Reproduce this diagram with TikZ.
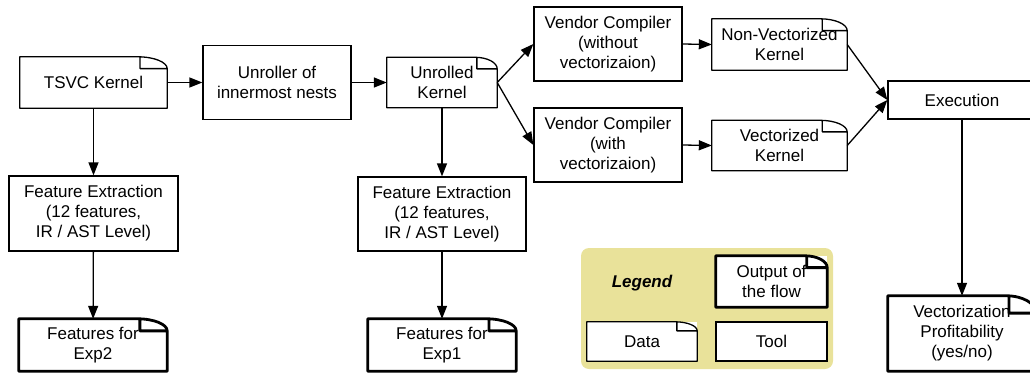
\documentclass[tikz,border=0pt]{standalone}
\usepackage{fontspec}
\setmainfont{Liberation Sans}
\usetikzlibrary{arrows.meta,calc}
\definecolor{legendbg}{RGB}{233,226,154}

\tikzset{
  every node/.style={font=\fontsize{17}{20}\selectfont},
  box/.style={draw, line width=1.3pt, inner sep=0pt, align=center},
  docbox/.style={inner sep=0pt, align=center},
  thinline/.style={line width=1.3pt},
  thickline/.style={line width=2.8pt},
  flow/.style={line width=1.3pt, -{Triangle[length=13pt,width=10pt]}},
}

% Document outline with a folded top-right corner, drawn around a node
\newcommand\docframe[2]{%
  \fill[white] let \p1=(#2.north west), \p2=(#2.south east),
      \n1={0.2*(\x2-\x1)}, \n2={0.23*(\y1-\y2)} in
    ({\x2-\n1},\y1) .. controls ({\x2-0.45*\n1},\y1) and (\x2,{\y1-0.45*\n2}) .. (\x2,{\y1-\n2})
    -- ({\x2-0.92*\n1},{\y1-\n2}) -- ({\x2-0.92*\n1},\y1) -- cycle;
  \draw[#1, line join=round] let \p1=(#2.north west), \p2=(#2.south east),
      \n1={0.2*(\x2-\x1)}, \n2={0.23*(\y1-\y2)} in
    (\p1) -- ({\x2-\n1},\y1)
    .. controls ({\x2-0.45*\n1},\y1) and (\x2,{\y1-0.45*\n2}) .. (\x2,{\y1-\n2})
    -- (\x2,\y2) -- (\x1,\y2) -- cycle
    ({\x2-0.92*\n1},\y1) -- ({\x2-0.92*\n1},{\y1-\n2}) -- (\x2,{\y1-\n2});
}

\begin{document}
\begin{tikzpicture}[x=1pt, y=-1pt]
  \path[use as bounding box, clip] (0,0) rectangle (1030,372);

  % main flow
  \node[docbox, minimum width=147pt, minimum height=51pt] (tsvc) at (93.5,82.5) {TSVC Kernel};
  \node[box, minimum width=148pt, minimum height=74pt] (unroller) at (277,82.5) {Unroller of\\innermost nests};
  \node[docbox, minimum width=110pt, minimum height=50pt] (unrolled) at (442,82.5) {Unrolled\\Kernel};
  \node[box, minimum width=148pt, minimum height=74pt] (vcnovec) at (608,44) {Vendor Compiler\\(without\\vectorizaion)};
  \node[box, minimum width=148pt, minimum height=74pt] (vcvec) at (608,145) {Vendor Compiler\\(with\\vectorizaion)};
  \node[docbox, minimum width=135pt, minimum height=51pt] (nonvec) at (779.5,44.5) {Non-Vectorized\\Kernel};
  \node[docbox, minimum width=135pt, minimum height=50pt] (vec) at (779.5,145.5) {Vectorized\\Kernel};
  \node[box, minimum width=148pt, minimum height=38pt] (exec) at (962,100) {Execution};
  \node[docbox, minimum width=148pt, minimum height=75pt] (vprof) at (962,333.5) {Vectorization\\Profitability\\(yes/no)};

  % feature extraction branches
  \node[box, minimum width=169pt, minimum height=75pt] (fexa) at (93.5,213.5) {Feature Extraction\\(12 features,\\IR / AST Level)};
  \node[docbox, minimum width=148pt, minimum height=52pt] (featb) at (93,345) {Features for\\Exp2};
  \node[box, minimum width=168pt, minimum height=74pt] (fexb) at (442,214) {Feature Extraction\\(12 features,\\IR / AST Level)};
  \node[docbox, minimum width=148pt, minimum height=52pt] (feata) at (442,345) {Features for\\Exp1};

  % legend
  \node[fill=legendbg, rounded corners=8pt, minimum width=252pt, minimum height=121pt, inner sep=0pt] (legend) at (707,308.5) {};
  \node[font=\fontsize{17}{20}\selectfont\bfseries\itshape] (legendtitle) at (642,283) {Legend};
  \node[docbox, fill=white, minimum width=111pt, minimum height=51pt] (lgout) at (771.5,281.5) {Output of\\the flow};
  \node[docbox, fill=white, minimum width=110pt, minimum height=39pt] (lgdata) at (642,341.5) {Data};
  \node[box, fill=white, minimum width=111pt, minimum height=39pt] (lgtool) at (771.5,341.5) {Tool};

  % document outlines
  \docframe{thinline}{tsvc}
  \docframe{thinline}{unrolled}
  \docframe{thinline}{nonvec}
  \docframe{thinline}{vec}
  \docframe{thinline}{lgdata}
  \docframe{thickline}{featb}
  \docframe{thickline}{feata}
  \docframe{thickline}{vprof}
  \docframe{thickline}{lgout}

  % connectors
  \draw[flow] (tsvc) -- (unroller);
  \draw[flow] (unroller) -- (unrolled);
  \draw[flow] (unrolled.east) -- (vcnovec.west);
  \draw[flow] (unrolled.east) -- (vcvec.west);
  \draw[flow] (vcnovec.east) -- (nonvec.west);
  \draw[flow] (vcvec.east) -- (vec.west);
  \draw[flow] (nonvec.east) -- (exec.west);
  \draw[flow] (vec.east) -- (exec.west);
  \draw[flow] (exec) -- (vprof);
  \draw[flow] (tsvc) -- (fexa);
  \draw[flow] (fexa) -- (featb);
  \draw[flow] (unrolled) -- (fexb);
  \draw[flow] (fexb) -- (feata);
\end{tikzpicture}
\end{document}
